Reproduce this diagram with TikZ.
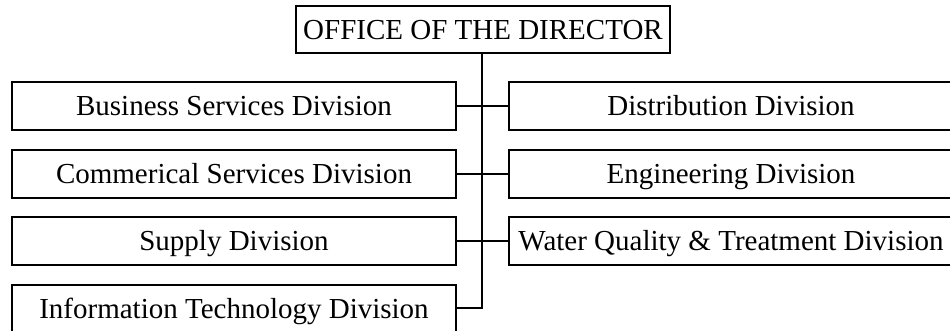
\documentclass[tikz,border=0pt]{standalone}
\usepackage{fontspec}
\setmainfont{Liberation Serif}
\begin{document}
\begin{tikzpicture}[x=1pt,y=-1pt,
  label text/.style={font=\fontsize{29}{34}\selectfont,text height=19.5pt,text depth=0pt},
  unit/.style={draw,line width=2pt,minimum width=444pt,minimum height=48pt,
    inner sep=0pt,label text},
  head/.style={draw,line width=2pt,minimum width=374pt,minimum height=47pt,
    inner sep=0pt,label text},
  link/.style={line width=2pt}]
\useasboundingbox (0,0) rectangle (950,330);
\node[head] (dir) at (483,29.5) {OFFICE OF THE DIRECTOR};
% left column
\node[unit] (bsd) at (234,106) {Business Services Division};
\node[unit] (csd) at (234,173.5) {Commerical Services Division};
\node[unit] (sup) at (234,241) {Supply Division};
\node[unit] (itd) at (234,309) {Information Technology Division};
% right column
\node[unit] (dis) at (731,106) {Distribution Division};
\node[unit] (eng) at (731,173.5) {Engineering Division};
\node[unit] (wqt) at (731,241) {Water Quality \& Treatment Division};
% spine
\coordinate (spine) at (482,308);
\draw[link] (dir.south -| spine) -- (spine) -- (itd.east |- spine);
\foreach \n in {bsd,csd,sup} \draw[link] (\n.east) -- (\n.east -| spine);
\foreach \n in {dis,eng,wqt} \draw[link] (\n.west) -- (\n.west -| spine);
\end{tikzpicture}
\end{document}
